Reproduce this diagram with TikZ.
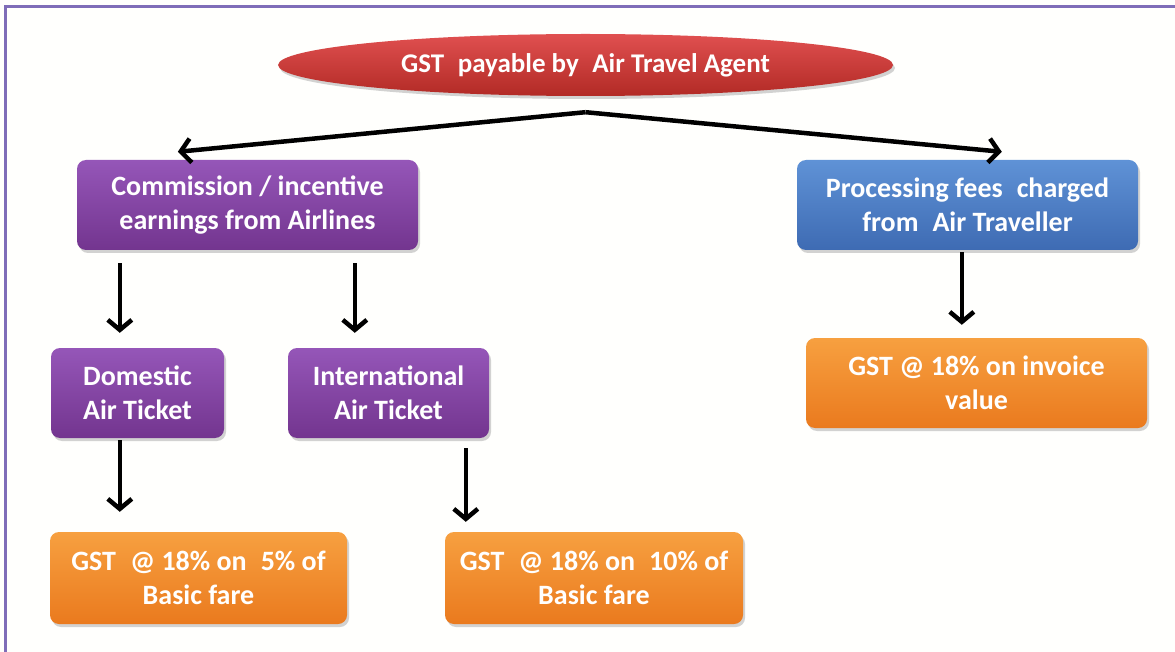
\documentclass[tikz,border=0pt]{standalone}
\usepackage{fontspec}
\setmainfont{Carlito}
\usetikzlibrary{arrows.meta,shapes.geometric,shadows,calc}
\definecolor{framec}{HTML}{7F6DB8}
\definecolor{redtop}{HTML}{E05050}
\definecolor{redbot}{HTML}{B22A25}
\definecolor{purtop}{HTML}{9556B8}
\definecolor{purbot}{HTML}{73358F}
\definecolor{bluetop}{HTML}{5F92D6}
\definecolor{bluebot}{HTML}{3E6BB3}
\definecolor{orgtop}{HTML}{F7A040}
\definecolor{orgbot}{HTML}{EA7A1E}
\definecolor{bgc}{HTML}{FFFFFD}
\tikzset{
  box/.style={rounded corners=9pt, align=center, text=white,
    font=\fontsize{28}{34}\selectfont\bfseries, inner sep=0pt,
    drop shadow={opacity=0.35, shadow xshift=2pt, shadow yshift=-3pt}},
  purbox/.style={box, top color=purtop, bottom color=purbot},
  bluebox/.style={box, top color=bluetop, bottom color=bluebot},
  orgbox/.style={box, top color=orgtop, bottom color=orgbot},
  arr/.style={line width=4.5pt, -{Straight Barb[length=10pt,width=24pt,line width=4.5pt]}},
}
\begin{document}
\begin{tikzpicture}[x=1pt,y=-1pt]
\useasboundingbox[fill=bgc] (0,0) rectangle (1175,652);
\draw[framec, line width=2.5pt] (1175,6.5) -- (5.5,6.5) -- (5.5,652);

\node[ellipse, minimum width=615pt, minimum height=62pt, inner sep=0pt,
  top color=redtop, bottom color=redbot, text=white,
  font=\fontsize{27}{32}\selectfont\bfseries,
  drop shadow={opacity=0.35, shadow xshift=2pt, shadow yshift=-3pt}]
  (top) at (585.5,65) {GST\enspace payable by\enspace Air Travel Agent};

\node[purbox, minimum width=341pt, minimum height=90pt] (comm) at (247.5,205)
  {Commission / incentive\\earnings from Airlines};
\node[bluebox, minimum width=341pt, minimum height=90pt] (proc) at (967.5,205)
  {Processing fees\enspace charged\\from\enspace Air Traveller};
\node[purbox, minimum width=173pt, minimum height=90pt] (dom) at (137.5,393)
  {Domestic\\Air Ticket};
\node[purbox, minimum width=201pt, minimum height=90pt] (intl) at (388.5,393)
  {International\\Air Ticket};
\node[orgbox, minimum width=341pt, minimum height=90pt] (gstr) at (976.5,383)
  {GST @ 18\% on invoice\\value};
\node[orgbox, minimum width=297pt, minimum height=92pt] (gst5) at (198.5,578)
  {GST\enspace @ 18\% on\enspace 5\% of\\Basic fare};
\node[orgbox, minimum width=298pt, minimum height=92pt] (gst10) at (594,578)
  {GST\enspace @ 18\% on\enspace 10\% of\\Basic fare};

\coordinate (apex) at ($(top.south)+(0,16)$);
\coordinate (lend) at ($(comm.north west)+(101,-8)$);
\coordinate (rend) at ($(proc.north west)+(205,-8)$);
\draw[arr, line join=round] (apex) -- (lend);
\draw[arr, line join=round] (apex) -- (rend);

\draw[arr] ($(comm.south west)+(43,13)$) -- ($(dom.north west)+(69,-15)$);
\draw[arr] ($(comm.south west)+(278,13)$) -- ($(intl.north west)+(67,-15)$);
\draw[arr] ($(dom.south west)+(69,2)$) -- ($(gst5.north west)+(70,-20)$);
\draw[arr] ($(intl.south west)+(178,10)$) -- ($(gst10.north west)+(21,-10)$);
\draw[arr] ($(proc.south west)+(165,2)$) -- ($(gstr.north west)+(156,-13)$);
\end{tikzpicture}
\end{document}
